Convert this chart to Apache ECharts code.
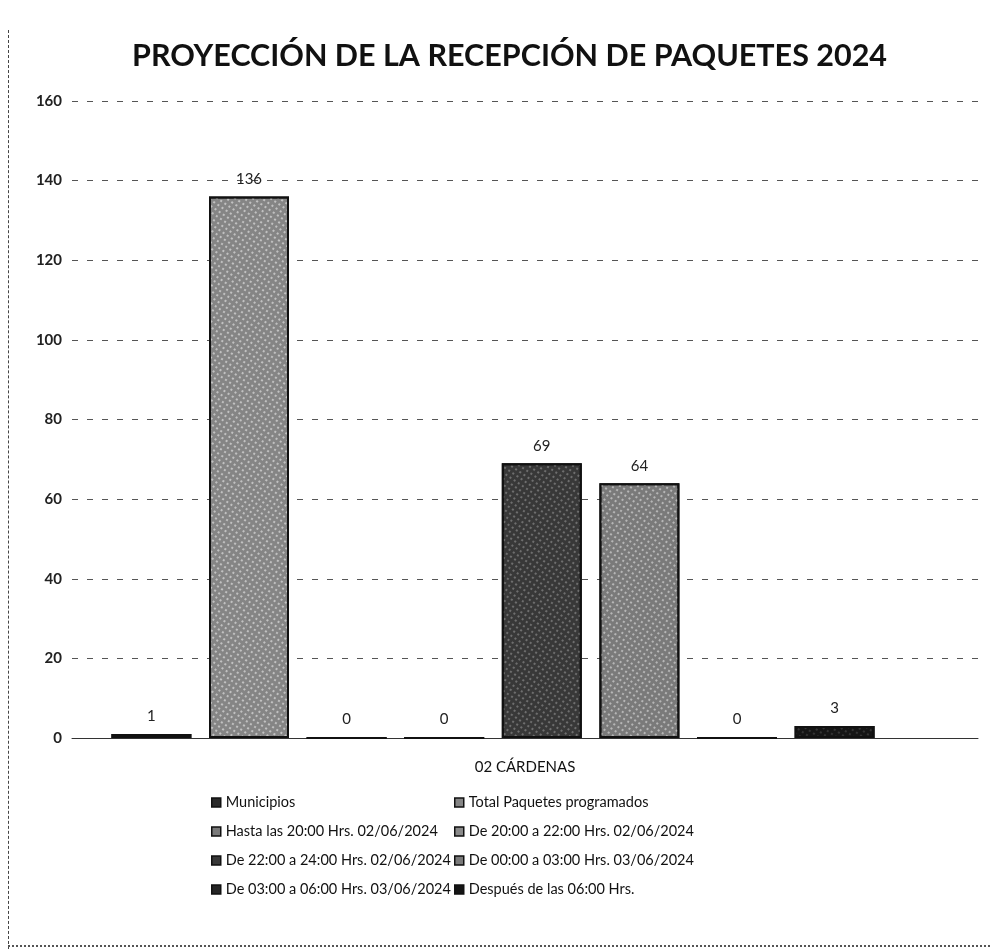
<!DOCTYPE html>
<html>
<head>
<meta charset="utf-8">
<script src="https://cdn.jsdelivr.net/npm/echarts@6/dist/echarts.min.js"></script>
<style>
html,body{margin:0;padding:0;background:#fff;}
#wrap{position:relative;width:990px;height:949px;}
#chart{position:absolute;left:0;top:0;width:990px;height:949px;}
#frameL{position:absolute;left:8px;top:30px;width:0;height:919px;border-left:1px dashed #444;}
#frameB{position:absolute;left:8px;top:945px;width:982px;height:0;border-top:2px dotted #555;}
</style>
</head>
<body>
<div id="wrap"><div id="chart"></div><div id="frameL"></div><div id="frameB"></div></div>
<script>
const titleText = 'PROYECCIÓN DE LA RECEPCIÓN DE PAQUETES 2024';
const categories = ['02 CÁRDENAS'];
const seriesNames = [
  'Municipios',
  'Total Paquetes programados',
  'Hasta las 20:00 Hrs. 02/06/2024',
  'De 20:00 a 22:00 Hrs. 02/06/2024',
  'De 22:00 a 24:00 Hrs. 02/06/2024',
  'De 00:00 a 03:00 Hrs. 03/06/2024',
  'De 03:00 a 06:00 Hrs. 03/06/2024',
  'Después de las 06:00 Hrs.'
];
const municipios = [1];
const totalPaquetes = [136];
const hasta20 = [0];
const de20a22 = [0];
const de22a24 = [69];
const de00a03 = [64];
const de03a06 = [0];
const despues06 = [3];
const seriesValues = [municipios, totalPaquetes, hasta20, de20a22, de22a24, de00a03, de03a06, despues06];
const yTicks = [0, 20, 40, 60, 80, 100, 120, 140, 160];

const fills = ['#2a2a2a', '#858585', '#7a7a7a', '#8a8a8a', '#383838', '#7a7a7a', '#262626', '#151515'];
const decalColors = ['rgba(255,255,255,0.15)', 'rgba(255,255,255,0.55)', 'rgba(255,255,255,0.5)', 'rgba(255,255,255,0.5)', 'rgba(255,255,255,0.3)', 'rgba(255,255,255,0.5)', 'rgba(255,255,255,0.2)', 'rgba(255,255,255,0.15)'];
const FONT = 'Lato';

const chart = echarts.init(document.getElementById('chart'));
const series = seriesNames.map((name, i) => ({
  name: name,
  type: 'bar',
  xAxisIndex: 1,
  yAxisIndex: 1,
  data: seriesValues[i],
  barWidth: 80,
  barGap: '22%',
  itemStyle: {
    color: fills[i],
    borderColor: '#111',
    borderWidth: 2,
    decal: {
      symbol: 'rect',
      symbolSize: 0.9,
      color: decalColors[i],
      dashArrayX: [2, 3],
      dashArrayY: [2, 3],
      rotation: 0.6
    }
  },
  label: {
    show: true,
    position: 'top',
    distance: 10,
    color: '#222',
    fontFamily: FONT,
    fontSize: 15
  }
}));

const legendCommon = {
  orient: 'vertical',
  icon: 'rect',
  itemWidth: 9,
  itemHeight: 9,
  itemGap: 14,
  textStyle: { color: '#111', fontFamily: FONT, fontSize: 14.5 },
  itemStyle: { borderColor: '#111', borderWidth: 1.5, decal: 'none' }
};

const yMin = yTicks[0];
const yMax = yTicks[yTicks.length - 1];

chart.setOption({
  animation: false,
  backgroundColor: '#fff',
  title: {
    text: titleText,
    left: 127,
    top: 36,
    textStyle: { fontFamily: FONT, fontWeight: 'bold', fontSize: 30.5, color: '#111' }
  },
  legend: [
    Object.assign({}, legendCommon, { left: 206, top: 790, data: [seriesNames[0], seriesNames[2], seriesNames[4], seriesNames[6]] }),
    Object.assign({}, legendCommon, { left: 449, top: 790, data: [seriesNames[1], seriesNames[3], seriesNames[5], seriesNames[7]] })
  ],
  grid: [
    { left: 72, right: 12, top: 101, bottom: 211 },
    { left: 72, right: 76, top: 101, bottom: 211 }
  ],
  xAxis: [
    {
      type: 'category',
      gridIndex: 0,
      data: categories,
      axisLine: { lineStyle: { color: '#333', width: 1 } },
      axisTick: { show: false },
      axisLabel: { color: '#111', fontFamily: FONT, fontSize: 15, margin: 22 }
    },
    {
      type: 'category',
      gridIndex: 1,
      data: categories,
      show: false
    }
  ],
  yAxis: [
    {
      type: 'value',
      gridIndex: 0,
      min: yMin,
      max: yMax,
      interval: 20,
      axisLine: { show: false },
      axisTick: { show: false },
      axisLabel: { color: '#222', fontFamily: FONT, fontSize: 15, fontWeight: 'bold', margin: 10 },
      splitLine: { lineStyle: { color: '#555', width: 1, type: [6, 9] } }
    },
    {
      type: 'value',
      gridIndex: 1,
      min: yMin,
      max: yMax,
      interval: 20,
      show: false,
      splitLine: { show: false }
    }
  ],
  series: series
});
</script>
</body>
</html>
